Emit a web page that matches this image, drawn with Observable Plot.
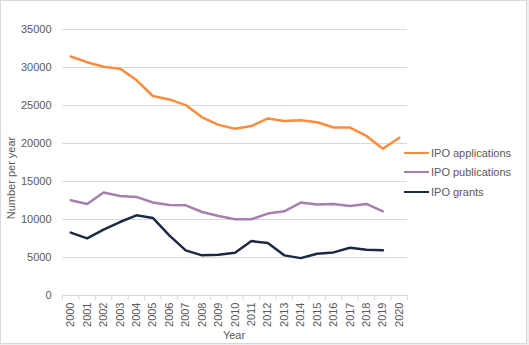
<!DOCTYPE html>
<html>
<head>
<meta charset="utf-8">
<script src="https://cdn.jsdelivr.net/npm/d3@7"></script>
<script src="https://cdn.jsdelivr.net/npm/@observablehq/plot@0.6"></script>
<style>
  html, body { margin: 0; padding: 0; background: #efefef; }
  #wrap { position: relative; width: 529px; height: 345px; overflow: hidden; font-family: "Liberation Sans", Arial, sans-serif; }
  #frame { position: absolute; left: 0; top: 0; width: 527px; height: 344px; box-sizing: border-box; border: 1px solid #d9d9d9; background: #fff; }
  #chart { position: absolute; left: 0; top: 0; }
  .lbl { position: absolute; font-size: 11px; color: #595959; white-space: nowrap; }
  #ylab { left: 11px; top: 178px; transform: translate(-50%, -50%) rotate(-90deg); }
  #xlab { left: 234px; top: 335px; transform: translate(-50%, -50%); }
  .leg { position: absolute; left: 404px; height: 14px; display: flex; align-items: center; font-size: 11px; color: #595959; }
  .leg span.sw { display: inline-block; width: 25px; height: 2.5px; margin-right: 2px; }
</style>
</head>
<body>
<div id="wrap">
  <div id="frame"></div>
  <div id="chart"></div>
  <div class="lbl" id="ylab">Number per year</div>
  <div class="lbl" id="xlab">Year</div>
</div>
<script>
const years = [2000,2001,2002,2003,2004,2005,2006,2007,2008,2009,2010,2011,2012,2013,2014,2015,2016,2017,2018,2019,2020];
const seriesNames = ["IPO applications", "IPO publications", "IPO grants"];
const seriesColors = ["#fb8c3c", "#a47fb0", "#1b2a45"];
const applications = [31440,30700,30100,29850,28350,26250,25800,25050,23450,22450,21950,22300,23300,22950,23050,22800,22100,22100,21000,19300,20750];
const publications = [12530,12050,13550,13100,12970,12230,11920,11870,10990,10460,10030,10030,10780,11080,12230,11960,12050,11780,12050,11080];
const grants = [8270,7520,8660,9670,10550,10200,7920,5940,5280,5370,5630,7160,6900,5280,4920,5500,5670,6290,6030,5940];
const yTicks = [0,5000,10000,15000,20000,25000,30000,35000];

const allSeries = [applications, publications, grants];
const rows = [];
allSeries.forEach((vals, s) => {
  vals.forEach((v, i) => rows.push({year: years[i], value: v, series: seriesNames[s]}));
});
const boundaries = years.map(y => y - 0.5).concat([years[years.length - 1] + 0.5]);

const chart = Plot.plot({
  width: 529,
  height: 345,
  marginLeft: 62,
  marginRight: 122,
  marginTop: 29,
  marginBottom: 50,
  style: {background: "transparent", fontFamily: "'Liberation Sans', Arial, sans-serif"},
  x: {type: "linear", domain: [boundaries[0], boundaries[boundaries.length - 1]]},
  y: {domain: [0, 35000]},
  color: {domain: seriesNames, range: seriesColors},
  marks: [
    Plot.gridY(yTicks, {stroke: "#d9d9d9", strokeOpacity: 1, strokeWidth: 1}),
    Plot.axisY(yTicks, {tickSize: 0, tickPadding: 11, fontSize: 11, fill: "#595959", label: null, tickFormat: d => String(d)}),
    Plot.axisX(boundaries, {tickSize: 5, stroke: "#d9d9d9", strokeOpacity: 1, tickFormat: () => "", label: null}),
    Plot.axisX(years, {tickSize: 0, tickPadding: 7, tickRotate: -90, fontSize: 11, fill: "#595959", label: null, tickFormat: d => String(d)}),
    Plot.line(rows, {x: "year", y: "value", z: "series", stroke: "series", strokeWidth: 2.5, strokeLinejoin: "round"})
  ]
});
document.getElementById("chart").appendChild(chart);

const legTops = [146, 165, 185];
const wrap = document.getElementById("wrap");
seriesNames.forEach((name, i) => {
  const d = document.createElement("div");
  d.className = "leg";
  d.style.top = legTops[i] + "px";
  const sw = document.createElement("span");
  sw.className = "sw";
  sw.style.background = seriesColors[i];
  d.appendChild(sw);
  d.appendChild(document.createTextNode(name));
  wrap.appendChild(d);
});
</script>
</body>
</html>
